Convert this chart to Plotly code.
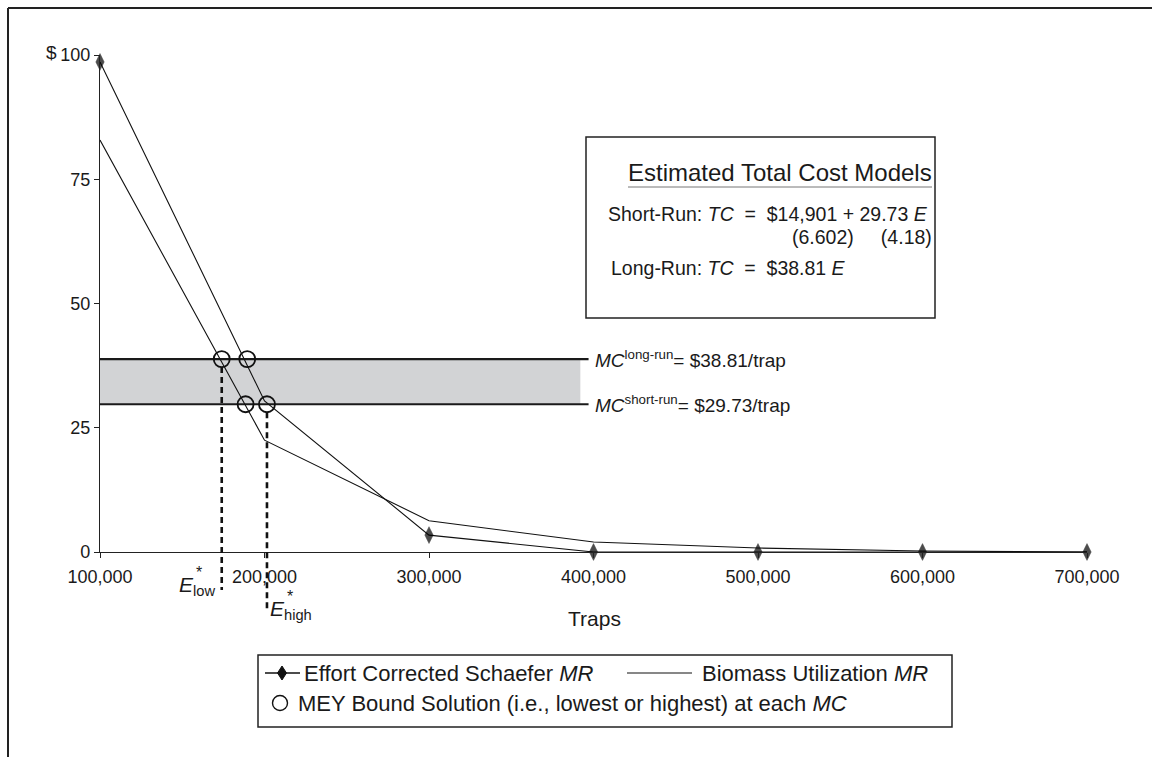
import plotly.graph_objects as go

# ---------------- data ----------------
traps = [100000, 200000, 300000, 400000, 500000, 600000, 700000]
schaefer_mr = [98.6, 30.4, 3.4, 0.0, 0.0, 0.0, 0.0]
biomass_mr = [82.9, 22.5, 6.3, 2.0, 0.8, 0.2, 0.0]

mey_traps = [174000, 189500, 188500, 201500]
mey_mc = [38.81, 38.81, 29.73, 29.73]

mc_long = 38.81
mc_short = 29.73
mc_line_end = 397000
band_end = 392000
e_low = 174000
e_high = 201500

x_tickvals = [100000, 200000, 300000, 400000, 500000, 600000, 700000]
x_ticktext = ["100,000", "200,000", "300,000", "400,000", "500,000", "600,000", "700,000"]
y_tickvals = [0, 25, 50, 75, 100]
y_ticktext = ["0", "25", "50", "75", "100"]

FONT = "Liberation Sans, Arial, Helvetica, sans-serif"
W, H = 1152, 757
L, R, T, B = 100, 65, 55, 205
PW, PH = W - L - R, H - T - B


def px(x):
    return (x - L) / PW


def py(y):
    return (H - B - y) / PH


fig = go.Figure()

fig.add_trace(go.Scatter(x=traps, y=biomass_mr, mode="lines",
                         line=dict(color="#111", width=1.1), showlegend=False,
                         name="Biomass Utilization MR"))
fig.add_trace(go.Scatter(x=traps, y=schaefer_mr, mode="lines+markers",
                         line=dict(color="#111", width=1.1),
                         marker=dict(symbol="diamond-tall", size=[12, 0, 12, 12, 12, 12, 12],
                                     color="#000", line=dict(color="#000", width=0.5)),
                         cliponaxis=False, showlegend=False,
                         name="Effort Corrected Schaefer MR"))
fig.add_trace(go.Scatter(x=mey_traps, y=mey_mc, mode="markers",
                         marker=dict(symbol="circle-open", size=16, color="#111",
                                     line=dict(color="#111", width=1.8)),
                         cliponaxis=False, showlegend=False,
                         name="MEY Bound Solution"))

shapes = []
# shaded band between MCs
shapes.append(dict(type="rect", xref="x", yref="y", x0=traps[0], x1=band_end,
                   y0=mc_short, y1=mc_long, fillcolor="#d2d3d5",
                   line=dict(width=0), layer="below"))
for v in (mc_long, mc_short):
    shapes.append(dict(type="line", xref="x", yref="y", x0=traps[0], x1=mc_line_end,
                       y0=v, y1=v, line=dict(color="#1a1a1a", width=2.2), layer="below"))
# dashed effort lines
shapes.append(dict(type="line", xref="x", yref="paper", x0=e_low, x1=e_low,
                   y0=mc_long / 100 - 8 / PH, y1=py(590),
                   line=dict(color="#111", width=2.6, dash="6px,4px")))
shapes.append(dict(type="line", xref="x", yref="paper", x0=e_high, x1=e_high,
                   y0=mc_short / 100 - 8 / PH, y1=py(612),
                   line=dict(color="#111", width=2.6, dash="6px,4px")))
# outer frame (top and left)
shapes.append(dict(type="line", xref="paper", yref="paper", x0=px(8), x1=px(1152),
                   y0=py(8), y1=py(8), line=dict(color="#222", width=2)))
shapes.append(dict(type="line", xref="paper", yref="paper", x0=px(8), x1=px(8),
                   y0=py(8), y1=py(757), line=dict(color="#222", width=2)))
# cost-model box
shapes.append(dict(type="rect", xref="paper", yref="paper", x0=px(586), x1=px(935),
                   y0=py(137), y1=py(318), line=dict(color="#222", width=1.5)))
shapes.append(dict(type="line", xref="paper", yref="paper", x0=px(628), x1=px(932),
                   y0=py(187), y1=py(187), line=dict(color="#777", width=1)))
# legend box
shapes.append(dict(type="rect", xref="paper", yref="paper", x0=px(258), x1=px(952),
                   y0=py(655), y1=py(727), line=dict(color="#222", width=1.5)))
shapes.append(dict(type="line", xref="paper", yref="paper", x0=px(265), x1=px(300),
                   y0=py(673), y1=py(673), line=dict(color="#111", width=1.5)))
shapes.append(dict(type="path", xref="paper", yref="paper", xsizemode="pixel",
                   ysizemode="pixel", xanchor=px(282), yanchor=py(673),
                   path="M 0,7 L 4.5,0 L 0,-7 L -4.5,0 Z", fillcolor="#111",
                   line=dict(color="#111", width=1)))
shapes.append(dict(type="line", xref="paper", yref="paper", x0=px(627), x1=px(692),
                   y0=py(673), y1=py(673), line=dict(color="#111", width=1.2)))
shapes.append(dict(type="circle", xref="paper", yref="paper", xsizemode="pixel",
                   ysizemode="pixel", xanchor=px(280), yanchor=py(703),
                   x0=-7.5, x1=7.5, y0=-7.5, y1=7.5, line=dict(color="#111", width=1.4)))

ann = []


def txt(text, x, y, size=18, xanchor="left", yanchor="middle", xref="paper", yref="paper", **kw):
    ann.append(dict(text=text, x=x, y=y, xref=xref, yref=yref, showarrow=False,
                    xanchor=xanchor, yanchor=yanchor,
                    font=dict(family=FONT, size=size, color="#1a1a1a"), **kw))


txt("$", px(44), py(53), size=19, xanchor="left")
txt("Traps", px(594), py(619), size=21, xanchor="center")
txt("<i>MC</i><sup>long-run</sup>= $38.81/trap", mc_line_end, mc_long, size=19,
    xref="x", yref="y", xshift=4)
txt("<i>MC</i><sup>short-run</sup>= $29.73/trap", mc_line_end, mc_short, size=19,
    xref="x", yref="y", xshift=4)
# box text
txt("Estimated Total Cost Models", px(780), py(172), size=24, xanchor="center")
txt("Short-Run: <i>TC</i>  =  $14,901 + 29.73 <i>E</i>", px(606), py(214), size=19.5)
txt("(6.602)     (4.18)", px(790), py(237), size=19.5)
txt("Long-Run: <i>TC</i>  =  $38.81 <i>E</i>", px(609), py(268), size=19.5)
# E labels
txt("<i>E</i><sub>low</sub>", px(177), py(586), size=21)
txt("*", px(194), py(572), size=16)
txt("<i>E</i><sub>high</sub>", px(268), py(610), size=21)
txt("*", px(285), py(596), size=16)
# legend text
txt("Effort Corrected Schaefer <i>MR</i>", px(302), py(673), size=22)
txt("Biomass Utilization <i>MR</i>", px(700), py(673), size=22)
txt("MEY Bound Solution (i.e., lowest or highest) at each <i>MC</i>", px(296), py(703), size=22)

fig.update_layout(
    width=W, height=H,
    margin=dict(l=L, r=R, t=T, b=B, pad=0),
    paper_bgcolor="white", plot_bgcolor="white",
    font=dict(family=FONT, size=18, color="#1a1a1a"),
    shapes=shapes, annotations=ann,
    xaxis=dict(range=[traps[0], traps[-1]], tickvals=x_tickvals, ticktext=x_ticktext,
               showgrid=False, zeroline=False, showline=True, linecolor="#222",
               linewidth=1.2, ticks="outside", ticklen=5, tickcolor="#222",
               tickfont=dict(size=18), ticklabelstandoff=3),
    yaxis=dict(range=[0, 100], tickvals=y_tickvals, ticktext=y_ticktext,
               showgrid=False, zeroline=False, showline=True, linecolor="#222",
               linewidth=1.2, ticks="outside", ticklen=5, tickcolor="#222",
               tickfont=dict(size=18)),
)

fig.write_html("out.html")
